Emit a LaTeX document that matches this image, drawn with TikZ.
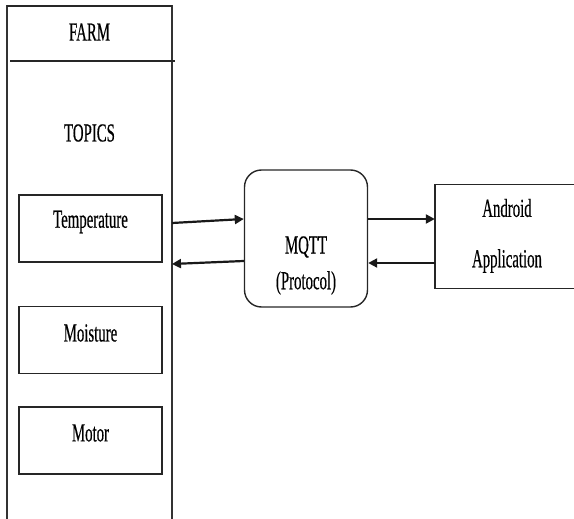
\documentclass[tikz,border=0pt]{standalone}
\usepackage{fontspec}
\setmainfont{Liberation Serif}[FakeStretch=0.57,FakeBold=0.4]
\usetikzlibrary{arrows.meta}
\tikzset{
  frame/.style={draw=black!85, line width=1.4pt},
  thinframe/.style={draw=black!80, line width=1.1pt},
  topicbox/.style={frame, minimum width=143pt, minimum height=67pt, inner sep=0pt},
  lbl/.style={font=\fontsize{26}{30}\selectfont, inner sep=0pt},
  arr/.style={draw=black!90, line width=2.2pt, -{Triangle[length=9pt,width=9pt]}},
}
\begin{document}
\begin{tikzpicture}[x=1pt,y=-1pt]
\useasboundingbox (0,0) rectangle (574,519);
% farm container (open at bottom)
\draw[thinframe] (7,519) -- (7,6) -- (172,6) -- (172,519);
\draw[frame] (7,6) -- (172,6);
\draw[frame] (10,61) -- (175,61);
\node[lbl] (farm) at (89.5,32) {FARM};
\node[lbl] (topics) at (89.5,133) {TOPICS};
% topic boxes
\node[topicbox] (temp) at (90.5,228.5) {};
\node[lbl] (templ) at (90.5,222) {Temperature};
\node[topicbox] (moist) at (90.5,340) {};
\node[lbl] (moistl) at (90.5,333) {Moisture};
\node[topicbox] (motor) at (90.5,440.5) {};
\node[lbl] (motorl) at (90.5,433) {Motor};
% MQTT
\node[frame, rounded corners=17pt, minimum width=123pt, minimum height=137pt, inner sep=0pt] (mqtt) at (306,238.5) {};
\node[lbl] (mqttl) at (306,247) {MQTT};
\node[lbl] (protl) at (306,283) {(Protocol)};
% Android
\node[minimum width=150pt, minimum height=103pt, inner sep=0pt] (android) at (510,236.5) {};
\draw[frame] (android.north east) -- (android.north west) -- (android.south west) -- (android.south east);
\node[lbl] (andl) at (507,208) {Android};
\node[lbl] (appl) at (507,261) {Application};
% connectors
\coordinate (fout) at (172,223);
\coordinate (fin) at (172,264);
\draw[arr] (fout) -- ([yshift=19.5pt]mqtt.west);
\draw[arr] ([yshift=-22.5pt]mqtt.west) -- (fin);
\draw[arr] ([yshift=19.5pt]mqtt.east) -- ([yshift=17.5pt]android.west);
\draw[arr] ([yshift=-26.5pt]android.west) -- ([yshift=-24.5pt]mqtt.east);
\end{tikzpicture}
\end{document}
